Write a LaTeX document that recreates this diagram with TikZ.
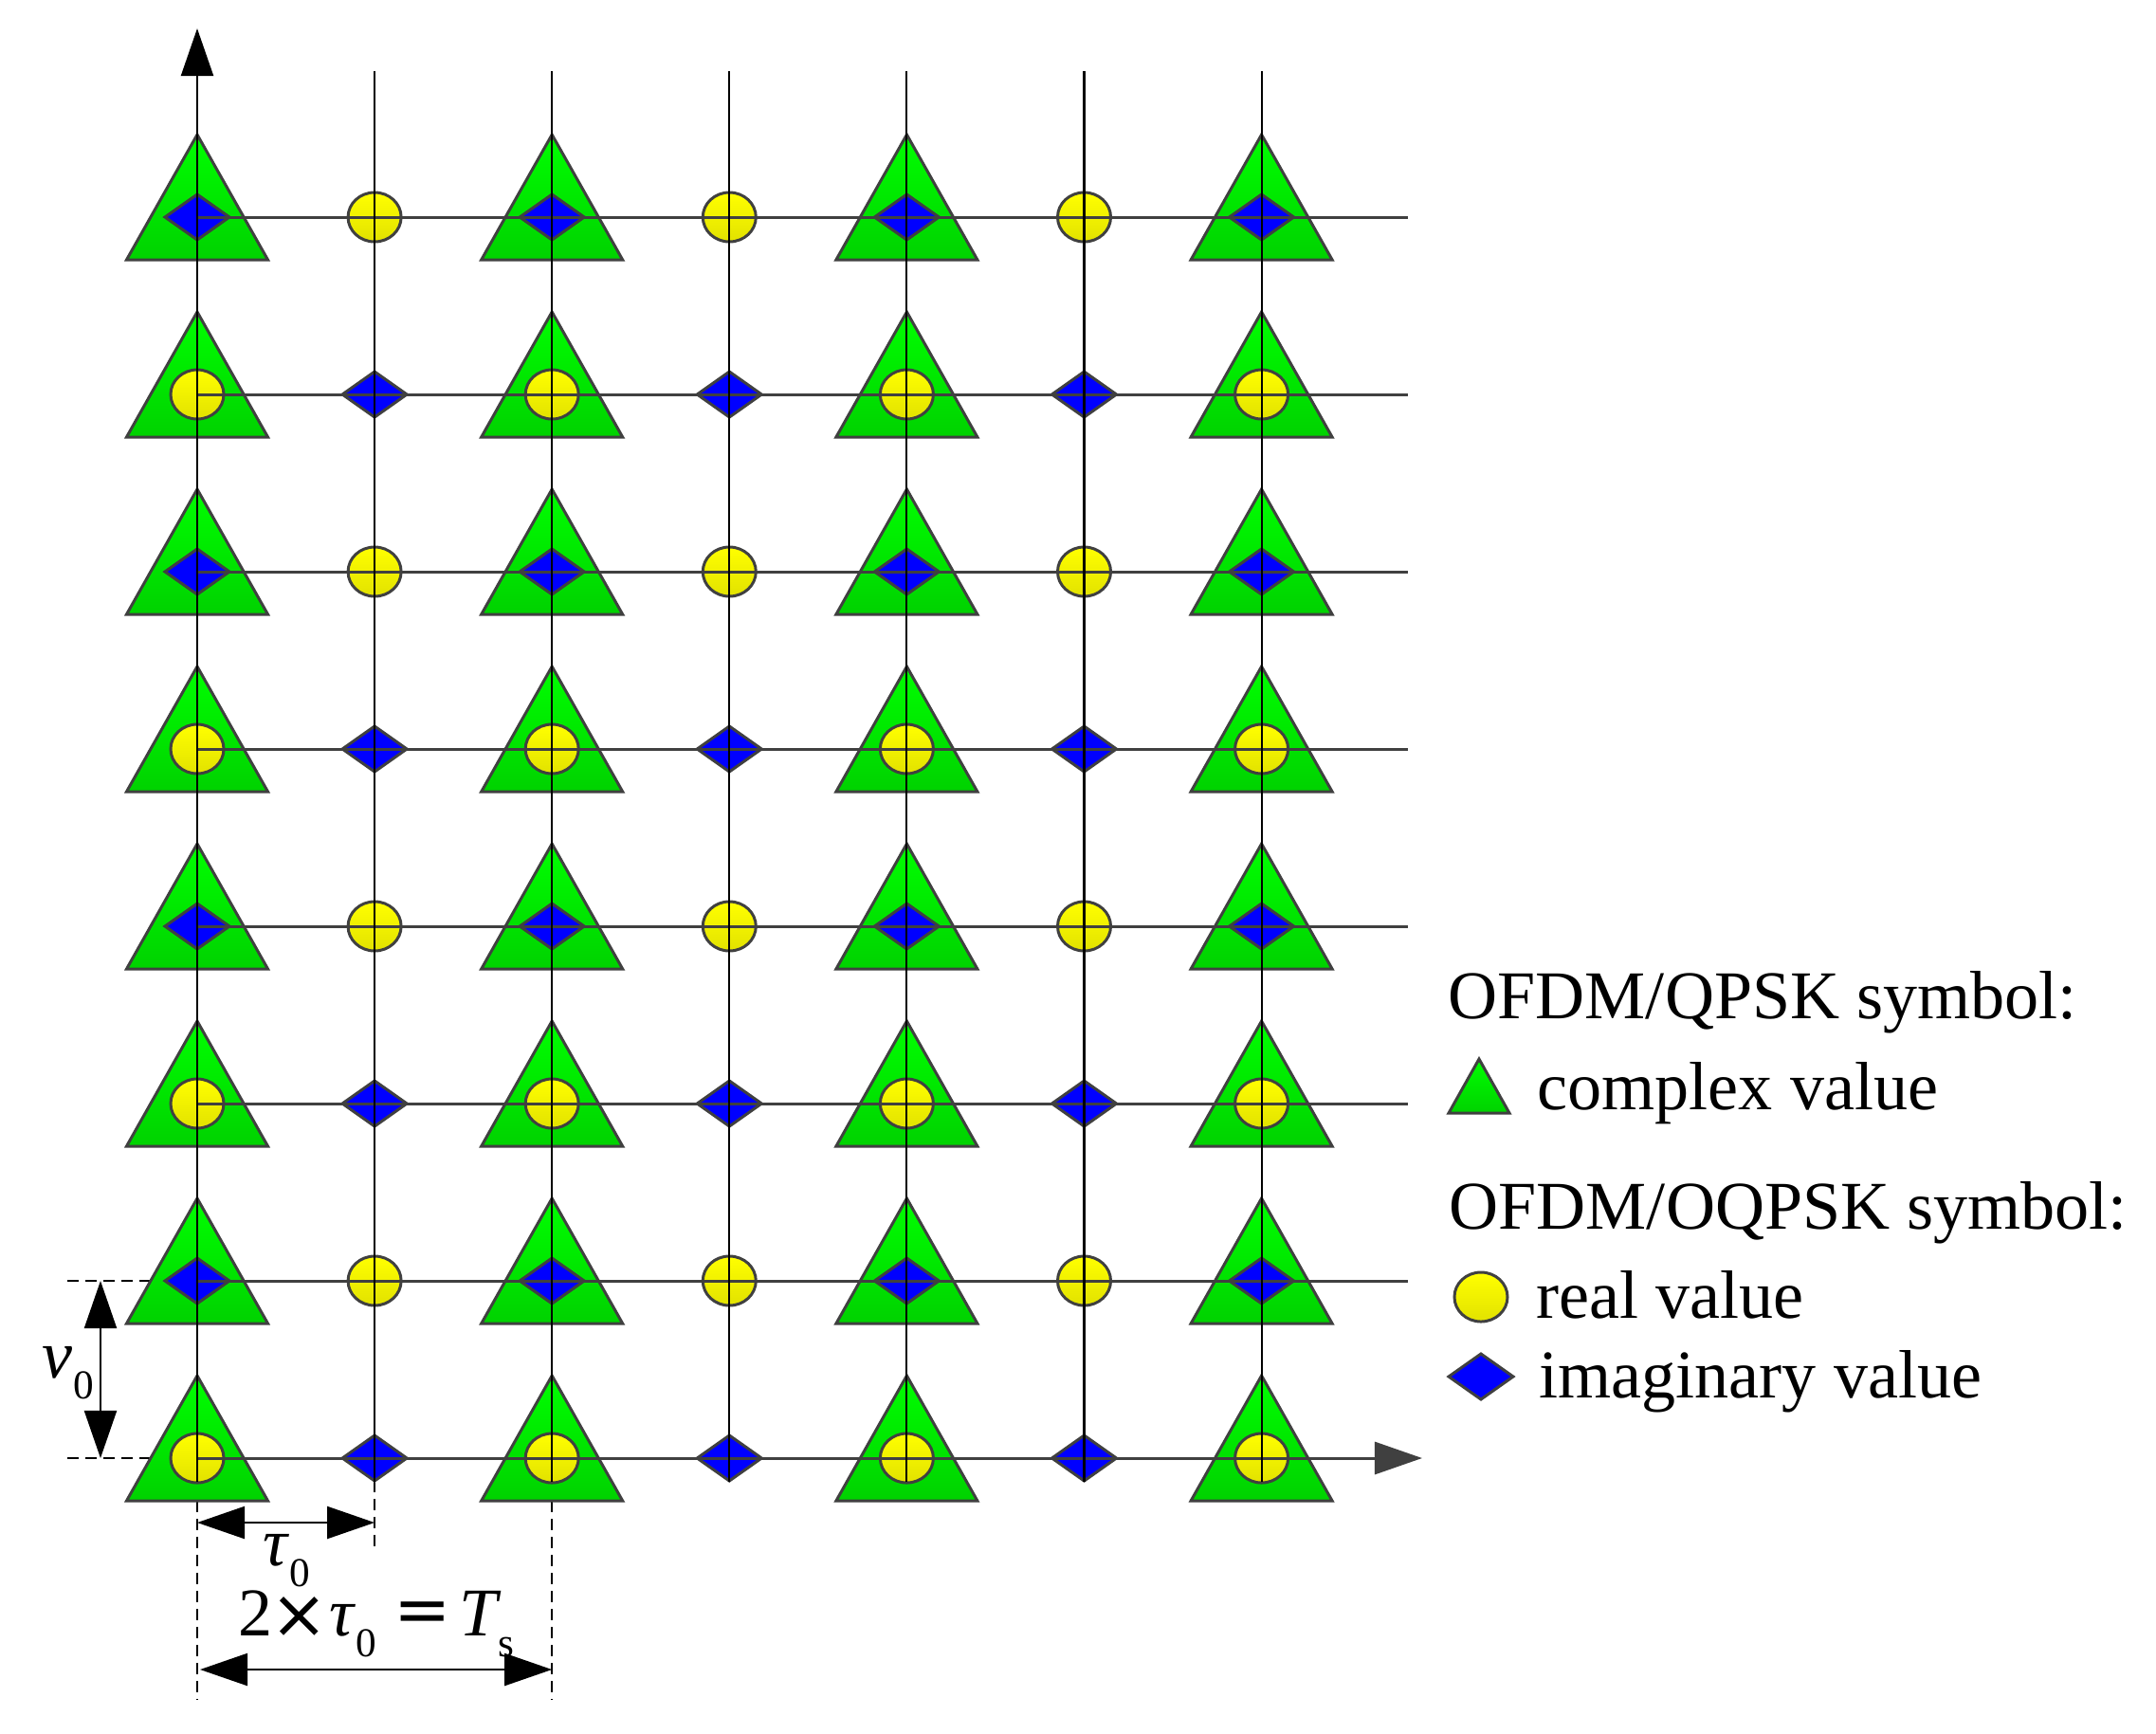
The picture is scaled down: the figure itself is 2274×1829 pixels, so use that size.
\documentclass[tikz,border=0pt]{standalone}
\usepackage{fontspec}
\setmainfont{Liberation Serif}
\newfontfamily\dejavu{DejaVu Sans}
\usetikzlibrary{arrows.meta,calc}
\definecolor{outl}{HTML}{404040}
\definecolor{gtop}{HTML}{00FF00}
\definecolor{gbot}{HTML}{00D200}
\definecolor{ytop}{HTML}{FFFF00}
\definecolor{ybot}{HTML}{E2E200}
\definecolor{dblue}{HTML}{0000FF}
\newcommand\subsz{\fontsize{12.3}{14}\selectfont}
\newcommand\lowsub[1]{\raisebox{-0.22cm}{\subsz\upshape #1}}
\tikzset{
  shp/.style={draw=outl, line width=0.85pt, line join=miter},
  trishape/.style={shp, top color=gtop, bottom color=gbot},
  circshape/.style={shp, top color=ytop, bottom color=ybot},
  diashape/.style={shp, fill=dblue},
  gridv/.style={black, line width=0.6pt},
  gridh/.style={outl, line width=0.85pt},
  dimline/.style={black, line width=0.6pt},
  dimdash/.style={black, line width=0.6pt, dash pattern=on 0.12cm off 0.07cm},
  bigtip/.tip={Triangle[length=0.5cm,width=0.34cm]},
  lbl/.style={inner sep=0pt, font=\fontsize{20.5}{24}\selectfont},
  pics/tri/.style={code={\path[trishape] (0,-87) -- (74.5,45) -- (-74.5,45) -- cycle;}},
  pics/circ/.style={code={\path[circshape] (0,0) ellipse [x radius=0.28cm, y radius=0.26cm];}},
  pics/diam/.style={code={\path[diashape] (-34,0) -- (0,-24) -- (34,0) -- (0,24) -- cycle;}},
}
\begin{document}
\begin{tikzpicture}[x=0.01cm,y=-0.01cm]
\useasboundingbox (0,0) rectangle (2274,1829);
% grid points
\foreach \i in {0,...,6}{\foreach \j in {0,...,7}{
  \coordinate (p\i-\j) at ({208+187.1*\i},{1538-187*\j});
}}
\coordinate (hend) at (1485,0);
\coordinate (xtip) at (1500,0);
\coordinate (vtop) at (0,75);
\coordinate (ytip) at (0,30);
\coordinate (vx) at (106,0);
\coordinate (dlx) at (71,0);
\coordinate (ty) at (0,1606);
\coordinate (sy) at (0,1761);
\coordinate (dbot) at (0,1793);
\coordinate (dmid) at (0,1631);

% dashed guide lines
\draw[dimdash] (p0-1 -| dlx) -- (p0-1);
\draw[dimdash] (p0-0 -| dlx) -- (p0-0);
\draw[dimdash] ($(p0-0)+(0,45)$) -- (p0-0 |- dbot);
\draw[dimdash] ($(p1-0)+(0,24)$) -- (p1-0 |- dmid);
\draw[dimdash] ($(p2-0)+(0,45)$) -- (p2-0 |- dbot);

% symbols
\foreach \i in {0,...,6}{\foreach \j in {0,...,7}{
  \pgfmathtruncatemacro\ev{mod(\i,2)}
  \pgfmathtruncatemacro\s{mod(\i+\j,2)}
  \ifnum\ev=0 \pic at (p\i-\j) {tri}; \fi
  \ifnum\s=0 \pic at (p\i-\j) {circ}; \else \pic at (p\i-\j) {diam}; \fi
}}

% horizontal lines
\foreach \j in {1,...,7}{ \draw[gridh] (p0-\j) -- (p0-\j -| hend); }
\draw[gridh, -{bigtip}] (p0-0) -- (p0-0 -| xtip);
% vertical lines
\foreach \i in {1,...,6}{ \draw[gridv] ($(p\i-0)+(0,25)$) -- (p\i-0 |- vtop); }
\draw[gridv, -{bigtip}] ($(p0-0)+(0,25)$) -- (p0-0 |- ytip);

% dimension arrows
\draw[dimline, {bigtip}-{bigtip}] (p0-1 -| vx) -- (p0-0 -| vx);
\draw[dimline, {bigtip}-{bigtip}] (p0-0 |- ty) -- (p1-0 |- ty);
\draw[dimline, {bigtip}-{bigtip}] ($(p0-0 |- sy)+(3,0)$) -- (p2-0 |- sy);

% dimension labels
\node[lbl, anchor=base west] (vlab) at (44,1453) {\itshape v\kern0.01cm\lowsub{0}};
\node[lbl, anchor=base west] (talab) at (277,1651) {\itshape τ\kern0.02cm\lowsub{0}};
\node[lbl, anchor=base] (two) at (270,1725) {2};
\node[lbl] (times) at (316,1706) {\dejavu ×};
\node[lbl, anchor=base west] (tblab) at (347,1725) {\itshape τ\kern0.02cm\lowsub{0}};
\node[lbl] (eq) at (446,1706) {\dejavu =};
\node[lbl, anchor=base west] (Tlab) at (484,1725) {\itshape T\kern0.01cm\lowsub{s}};

% legend
\node[lbl, anchor=base west] (lq) at (1527,1074) {OFDM/QPSK symbol:};
\path[trishape] (1560,1117) -- (1592,1174) -- (1528,1174) -- cycle;
\node[lbl, anchor=base west] (lc) at (1621,1170) {complex value};
\node[lbl, anchor=base west] (loq) at (1528,1296) {OFDM/OQPSK symbol:};
\pic at (1562,1368) {circ};
\node[lbl, anchor=base west] (lr) at (1620,1390) {real value};
\pic at (1562,1452) {diam};
\node[lbl, anchor=base west] (li) at (1623,1474) {imaginary value};
\end{tikzpicture}
\end{document}
